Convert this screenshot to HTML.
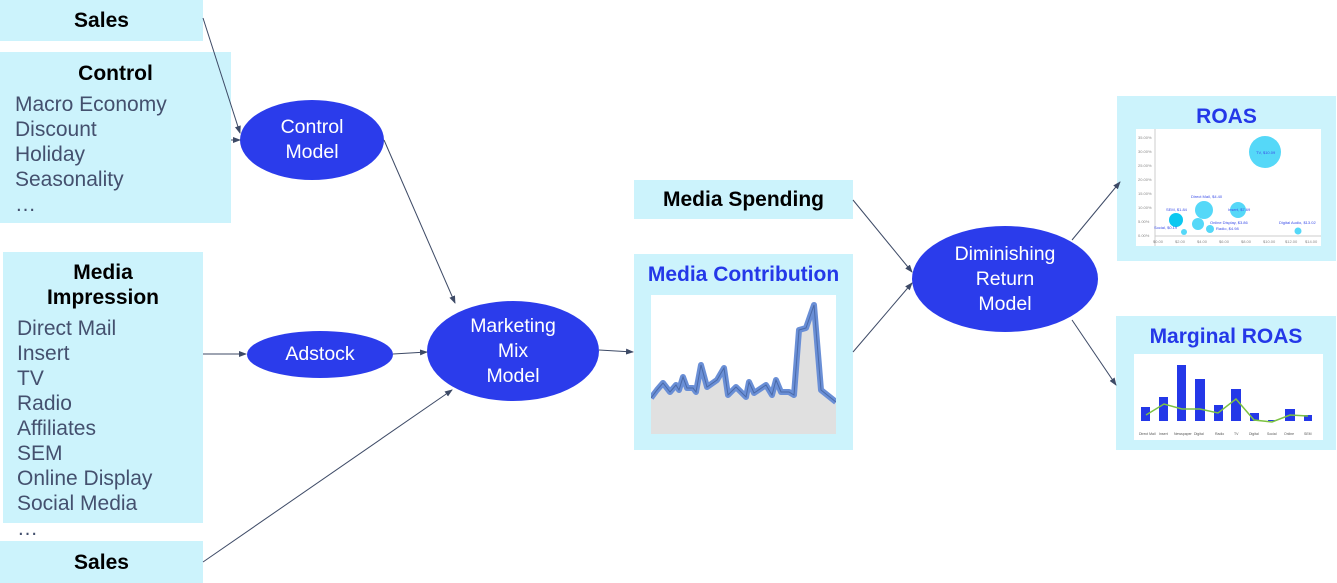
<!DOCTYPE html>
<html><head><meta charset="utf-8"><style>
body{margin:0;width:1337px;height:583px;background:#fff;position:relative;overflow:hidden;font-family:"Liberation Sans",Arial,sans-serif}
.b{position:absolute;background:#ccf3fc}
.t{position:absolute;font-weight:bold;color:#000;font-size:21px;text-align:center;width:100%}
.l{position:absolute;font-size:21px;color:#44506e;line-height:25px}
.e{position:absolute;background:#2b3ceb;border-radius:50%;color:#fff;font-size:19.5px;display:flex;align-items:center;justify-content:center;text-align:center;line-height:25px}
.bt{position:absolute;font-weight:bold;color:#2438e8;font-size:21px;text-align:center;width:100%}
</style></head><body>
<div class="b" style="left:0;top:0;width:203px;height:41px"><div class="t" style="top:9px">Sales</div></div>
<div class="b" style="left:0;top:52px;width:231px;height:171px"><div class="t" style="top:10px">Control</div>
<div class="l" style="left:15px;top:40px">Macro Economy<br>Discount<br>Holiday<br>Seasonality<br>…</div></div>
<div class="b" style="left:3px;top:252px;width:200px;height:271px"><div class="t" style="top:8px;line-height:25px">Media<br>Impression</div>
<div class="l" style="left:14px;top:64px">Direct Mail<br>Insert<br>TV<br>Radio<br>Affiliates<br>SEM<br>Online Display<br>Social Media<br>…</div></div>
<div class="b" style="left:0;top:541px;width:203px;height:42px"><div class="t" style="top:10px">Sales</div></div>

<div class="e" style="left:240px;top:100px;width:144px;height:80px">Control<br>Model</div>
<div class="e" style="left:247px;top:331px;width:146px;height:47px">Adstock</div>
<div class="e" style="left:427px;top:301px;width:172px;height:100px">Marketing<br>Mix<br>Model</div>
<div class="e" style="left:912px;top:226px;width:186px;height:106px">Diminishing<br>Return<br>Model</div>

<div class="b" style="left:634px;top:180px;width:219px;height:39px"><div class="t" style="top:8px">Media Spending</div></div>
<div class="b" style="left:634px;top:254px;width:219px;height:196px"><div class="bt" style="top:9px">Media Contribution</div>
<svg style="position:absolute;left:17px;top:41px" width="185" height="139" viewBox="0 0 185 139">
<rect width="185" height="139" fill="#fff"/>
<path d="M0,103 L6,95 L12,88 L19,97 L25,90 L28,95 L32,82 L36,93 L42,93 L45,97 L50,70 L56,92 L66,85 L73,73 L77,100 L85,92 L95,102 L98,87 L103,98 L115,90 L121,100 L125,85 L130,97 L138,97 L143,100 L148,35 L155,33 L163,10 L170,95 L185,107 L185,139 L0,139Z" fill="#e0e0e0"/>
<path d="M0,103 L6,95 L12,88 L19,97 L25,90 L28,95 L32,82 L36,93 L42,93 L45,97 L50,70 L56,92 L66,85 L73,73 L77,100 L85,92 L95,102 L98,87 L103,98 L115,90 L121,100 L125,85 L130,97 L138,97 L143,100 L148,35 L155,33 L163,10 L170,95 L185,107" fill="none" stroke="#6a8fd6" stroke-width="6" stroke-linejoin="round"/>
<path d="M0,103 L6,95 L12,88 L19,97 L25,90 L28,95 L32,82 L36,93 L42,93 L45,97 L50,70 L56,92 L66,85 L73,73 L77,100 L85,92 L95,102 L98,87 L103,98 L115,90 L121,100 L125,85 L130,97 L138,97 L143,100 L148,35 L155,33 L163,10 L170,95 L185,107" fill="none" stroke="#4a6aa8" stroke-width="1"/>
</svg>
</div>

<div class="b" style="left:1117px;top:96px;width:219px;height:165px"><div class="bt" style="top:9px">ROAS</div>
<svg style="position:absolute;left:19px;top:33px" width="185" height="117">
<rect width="185" height="117" fill="#fff"/>
<line x1="19" y1="107" x2="185" y2="107" stroke="#ccc"/><line x1="19" y1="0" x2="19" y2="117" stroke="#ccc"/>
<g font-size="4" fill="#888"><text x="2" y="10">35.00%</text><text x="2" y="24">30.00%</text><text x="2" y="38">25.00%</text><text x="2" y="52">20.00%</text><text x="2" y="66">15.00%</text><text x="2" y="80">10.00%</text><text x="2" y="94">5.00%</text><text x="2" y="108">0.00%</text>
<text x="17" y="114">$0.00</text><text x="39" y="114">$2.00</text><text x="61" y="114">$4.00</text><text x="83" y="114">$6.00</text><text x="105" y="114">$8.00</text><text x="127" y="114">$10.00</text><text x="149" y="114">$12.00</text><text x="169" y="114">$14.00</text></g>
<circle cx="129" cy="23" r="16" fill="#55d8f8"/><circle cx="68" cy="81" r="9" fill="#55d8f8"/><circle cx="102" cy="81" r="8" fill="#55d8f8"/>
<circle cx="40" cy="91" r="7" fill="#0cc8f0"/><circle cx="62" cy="95" r="6" fill="#55d8f8"/><circle cx="74" cy="100" r="4" fill="#55d8f8"/>
<circle cx="48" cy="103" r="3" fill="#55d8f8"/><circle cx="162" cy="102" r="3.5" fill="#55d8f8"/>
<g font-size="4" fill="#3a4de8"><text x="120" y="25">TV, $10.09</text><text x="55" y="69">Direct Mail, $4.40</text><text x="92" y="82">Insert, $7.69</text><text x="30" y="82">SEM, $1.84</text><text x="74" y="95">Online Display, $3.86</text><text x="80" y="101">Radio, $4.98</text><text x="143" y="95">Digital Audio, $13.02</text><text x="18" y="100">Social, $0.19</text></g>
</svg></div>

<div class="b" style="left:1116px;top:316px;width:220px;height:134px"><div class="bt" style="top:9px">Marginal ROAS</div>
<svg style="position:absolute;left:18px;top:38px" width="189" height="86">
<rect width="189" height="86" fill="#fff"/>
<g fill="#2438e8"><rect x="7" y="53" width="9" height="14"/><rect x="25" y="43" width="9" height="24"/><rect x="43" y="11" width="9" height="56"/><rect x="61" y="25" width="10" height="42"/><rect x="80" y="51" width="9" height="16"/><rect x="97" y="35" width="10" height="32"/><rect x="116" y="59" width="9" height="8"/><rect x="134" y="66" width="9" height="1"/><rect x="151" y="55" width="10" height="12"/><rect x="170" y="61" width="8" height="6"/></g>
<polyline points="12,61 30,50 48,55 66,55 84,59 102,45 120,66 138,68 156,61 174,62" fill="none" stroke="#7cc242" stroke-width="1.5"/>
<g font-size="3.5" fill="#555"><text x="5" y="81">Direct Mail</text><text x="25" y="81">Insert</text><text x="40" y="81">Newspaper</text><text x="60" y="81">Digital</text><text x="81" y="81">Radio</text><text x="100" y="81">TV</text><text x="115" y="81">Digital</text><text x="133" y="81">Social</text><text x="150" y="81">Online</text><text x="170" y="81">SEM</text></g>
</svg></div>

<svg style="position:absolute;left:0;top:0" width="1337" height="583">
<defs><marker id="a" markerWidth="8" markerHeight="8" refX="7" refY="4" orient="auto" markerUnits="userSpaceOnUse"><path d="M0,1 L8,4 L0,7Z" fill="#3d4a66"/></marker></defs>
<g stroke="#3d4a66" stroke-width="1" fill="none" marker-end="url(#a)">
<line x1="203" y1="18" x2="240" y2="133"/><line x1="231" y1="140" x2="240" y2="140"/>
<line x1="384" y1="140" x2="455" y2="303"/><line x1="203" y1="354" x2="246" y2="354"/>
<line x1="393" y1="354" x2="427" y2="352"/><line x1="203" y1="562" x2="452" y2="390"/>
<line x1="599" y1="350" x2="633" y2="352"/><line x1="853" y1="200" x2="912" y2="272"/>
<line x1="853" y1="352" x2="912" y2="283"/><line x1="1072" y1="240" x2="1120" y2="182"/>
<line x1="1072" y1="320" x2="1116" y2="385"/></g></svg>
</body></html>
